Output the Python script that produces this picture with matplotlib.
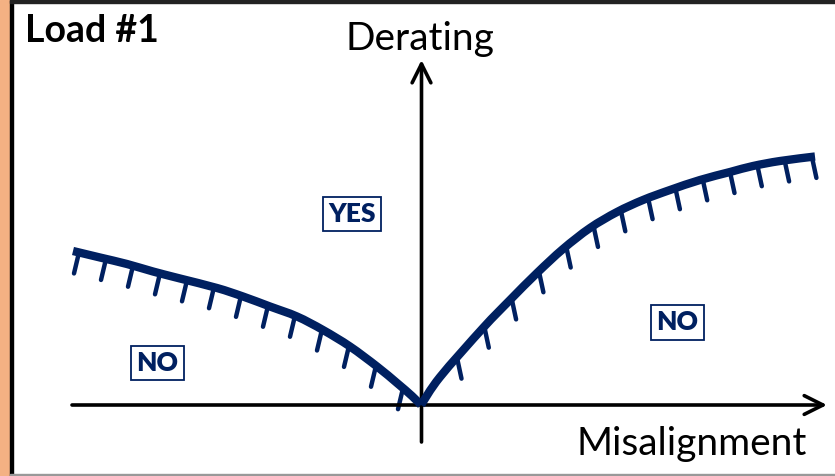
import numpy as np
import matplotlib
matplotlib.use("Agg")
import matplotlib.pyplot as plt
from matplotlib.patches import Rectangle, PathPatch
from matplotlib.path import Path

# -------------------------------------------------------
# Daten (schematisch): Grenzkurven Derating vs. Misalignment
# -------------------------------------------------------
left_x = [-3.48, -3.21, -2.94, -2.68, -2.41, -2.04, -1.78, -1.51, -1.24,
          -0.98, -0.71, -0.44, -0.24, -0.09, 0.0]
left_y = [1.54, 1.475, 1.41, 1.335, 1.265, 1.17, 1.085, 0.985, 0.885,
          0.75, 0.585, 0.385, 0.22, 0.09, 0.0]

right_x = [0.0, 0.19, 0.62, 0.89, 1.16, 1.42, 1.69, 1.96, 2.22, 2.49,
           2.79, 3.09, 3.32, 3.59, 3.94]
right_y = [0.0, 0.28, 0.77, 1.05, 1.32, 1.56, 1.77, 1.93, 2.05, 2.15,
           2.25, 2.33, 2.39, 2.44, 2.485]

title = "Load #1"
x_label = "Misalignment"
y_label = "Derating"
region_labels = ["YES", "NO", "NO"]

NAVY = "#002060"
ORANGE = "#F4B183"

plt.rcParams["font.family"] = ["Lato", "DejaVu Sans"]

fig = plt.figure(figsize=(8.35, 4.76), dpi=100)
ax = fig.add_axes([0, 0, 1, 1])
ax.set_xlim(-4.21, 4.14)
ax.set_ylim(-0.71, 4.05)
ax.axis("off")

# Rahmen: oranger Streifen links, Linien oben/unten
fig.patches.append(Rectangle((0, 0), 10 / 835, 1, transform=fig.transFigure,
                             color=ORANGE, zorder=0))
fig.patches.append(Rectangle((10 / 835, 0), 2.5 / 835, 1, transform=fig.transFigure,
                             color="black", zorder=0))
fig.patches.append(Rectangle((10 / 835, 1 - 2.5 / 476), 1, 2.5 / 476,
                             transform=fig.transFigure, color="#222222", zorder=0))
fig.patches.append(Rectangle((10 / 835, 0), 1, 2 / 476, transform=fig.transFigure,
                             color="#999999", zorder=0))

# Achsen mit offenen Pfeilspitzen
arrow = dict(arrowstyle="->,head_length=0.9,head_width=0.45", lw=2.6,
             color="black", shrinkA=0, shrinkB=0, mutation_scale=15)
ax.annotate("", xy=(4.06, 0), xytext=(-3.49, 0), arrowprops=arrow)
ax.annotate("", xy=(0.005, 3.45), xytext=(0.005, -0.37), arrowprops=arrow)


# Glatte Kurve durch die Punkte (Catmull-Rom als Bezier-Pfad)
def smooth_path(xs, ys):
    p = np.column_stack([xs, ys])
    verts, codes = [p[0]], [Path.MOVETO]
    for i in range(len(p) - 1):
        p0 = p[max(i - 1, 0)]
        p1, p2 = p[i], p[i + 1]
        p3 = p[min(i + 2, len(p) - 1)]
        verts += [p1 + (p2 - p0) / 6, p2 - (p3 - p1) / 6, p2]
        codes += [Path.CURVE4] * 3
    return Path(verts, codes)


for xs, ys in [(left_x, left_y), (right_x, right_y)]:
    ax.add_patch(PathPatch(smooth_path(xs, ys), fc="none", ec=NAVY, lw=6.0,
                           capstyle="butt", joinstyle="round", zorder=3))

# Schraffur unter den Kurven (NO-Seite)
def hatches(xs, ys, hx, slant):
    for x0 in hx:
        y0 = np.interp(x0, xs, ys)
        ax.plot([x0, x0 + slant], [y0, y0 - 0.21], color=NAVY, lw=3.2,
                solid_capstyle="round", zorder=2)

hatches(left_x, left_y, np.arange(-3.42, -0.1, 0.27), -0.05)
hatches(right_x, right_y, np.arange(0.36, 3.95, 0.273), 0.045)

# Texte
ax.text(-3.96, 3.63, title, fontsize=27, fontweight="bold", ha="left",
        va="baseline")
ax.text(-0.01, 3.55, y_label, fontsize=28, ha="center", va="baseline")
ax.text(3.86, -0.50, x_label, fontsize=28, ha="right", va="baseline")

box = dict(boxstyle="square,pad=0.2", fc="white", ec=NAVY, lw=1.3)
for (bx, by), lab in zip([(-0.69, 1.91), (-2.635, 0.42), (2.565, 0.825)],
                         region_labels):
    ax.text(bx, by, lab, fontsize=19, fontweight="heavy", color=NAVY,
            ha="center", va="center", bbox=box)

fig.savefig("out.png", dpi=100)
